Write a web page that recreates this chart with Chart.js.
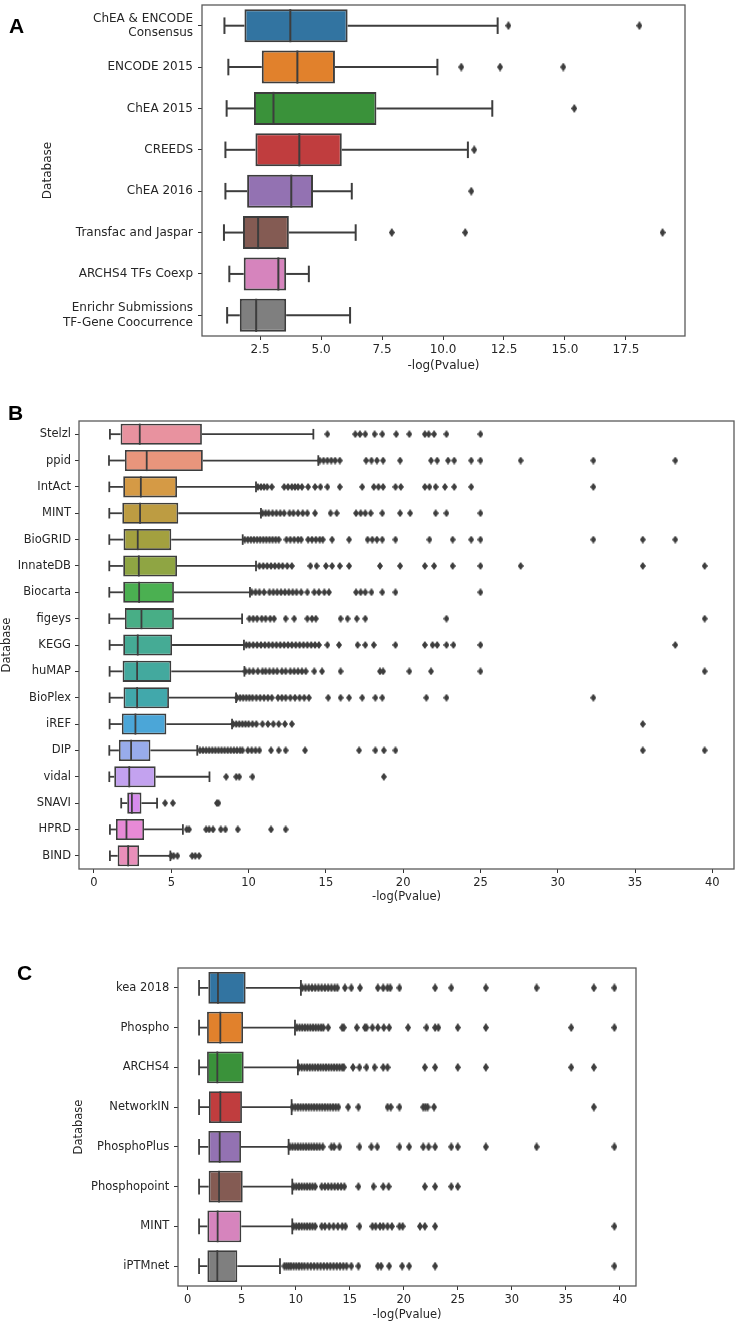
<!DOCTYPE html>
<html>
<head>
<meta charset="utf-8">
<script src="https://cdn.jsdelivr.net/npm/chart.js@4.4.0/dist/chart.umd.min.js"></script>
<style>
  body { margin: 0; background: #fff; }
  #page { position: relative; width: 739px; height: 1322px; overflow: hidden; background: #fff; }
  canvas { position: absolute; left: 0; }
  .panel { position: absolute; font: bold 21px "Liberation Sans", Arial, sans-serif; line-height: 21px; color: #000; }
</style>
</head>
<body>
<div id="page">
  <canvas id="chartA" width="739" height="376" style="top:0"></canvas>
  <canvas id="chartB" width="739" height="530" style="top:380px"></canvas>
  <canvas id="chartC" width="739" height="402" style="top:920px"></canvas>
  <div class="panel" style="left:9px; top:15px">A</div>
  <div class="panel" style="left:8px; top:402px">B</div>
  <div class="panel" style="left:17px; top:962px">C</div>
</div>
<script>
// panel A - transcription factor libraries
const aLabels = ["ChEA & ENCODE\nConsensus", "ENCODE 2015", "ChEA 2015", "CREEDS", "ChEA 2016",
  "Transfac and Jaspar", "ARCHS4 TFs Coexp", "Enrichr Submissions\nTF-Gene Coocurrence"];
const aLow = [1.04, 1.20, 1.13, 1.08, 1.08, 1.02, 1.24, 1.15];
const aQ1 = [1.86, 2.57, 2.25, 2.31, 1.97, 1.80, 1.83, 1.67];
const aMed = [3.74, 4.03, 3.05, 4.11, 3.78, 2.42, 3.25, 2.34];
const aQ3 = [6.09, 5.57, 7.27, 5.85, 4.67, 3.68, 3.57, 3.57];
const aHigh = [12.24, 9.77, 12.02, 11.02, 6.26, 6.42, 4.50, 6.19];
const aOutliers = [[12.68, 18.05], [10.75, 12.34, 14.93], [15.38], [11.28], [11.16], [7.90, 10.91, 19.0], [], []];
const aTicks = [2.5, 5, 7.5, 10, 12.5, 15, 17.5];

// panel B - PPI libraries
const bLabels = ["Stelzl", "ppid", "IntAct", "MINT", "BioGRID", "InnateDB", "Biocarta", "figeys", "KEGG",
  "huMAP", "BioPlex", "iREF", "DIP", "vidal", "SNAVI", "HPRD", "BIND"];
const bLow = [1.03, 0.97, 0.99, 0.99, 0.99, 0.99, 0.99, 0.99, 1.01, 1.01, 1.01, 1.01, 0.99, 0.99, 1.76, 1.03, 1.03];
const bQ1 = [1.72, 2.0, 1.89, 1.83, 1.91, 1.89, 1.89, 2.0, 1.89, 1.85, 1.91, 1.8, 1.61, 1.31, 2.15, 1.42, 1.53];
const bMed = [2.96, 3.41, 3.03, 2.98, 2.83, 2.9, 2.92, 3.07, 2.83, 2.79, 2.79, 2.68, 2.4, 2.28, 2.45, 2.1, 2.21];
const bQ3 = [6.98, 7.04, 5.37, 5.45, 5.0, 5.37, 5.17, 5.17, 5.05, 5.0, 4.85, 4.68, 3.65, 3.99, 3.07, 3.24, 2.92];
const bHigh = [14.19, 14.51, 10.48, 10.8, 9.62, 10.48, 10.09, 9.58, 9.7, 9.73, 9.19, 8.93, 6.68, 7.47, 4.08, 5.75, 4.94];
const bOutliers = [
  [15.1, 16.9, 17.2, 17.55, 18.15, 18.65, 19.55, 20.4, 21.4, 21.65, 22.0, 22.8, 25.0],
  [14.6, 14.85, 15.1, 15.35, 15.6, 15.9, 17.6, 17.95, 18.3, 18.7, 19.8, 21.8, 22.2, 22.9, 23.3, 24.4, 25.0, 27.6, 32.3, 37.6],
  [10.6, 10.8, 11.0, 11.2, 11.5, 12.3, 12.55, 12.8, 13.0, 13.2, 13.45, 13.85, 14.3, 14.65, 15.1, 15.9, 17.35, 18.1, 18.4,
    18.7, 19.5, 19.85, 21.4, 21.7, 22.1, 22.7, 23.3, 24.4, 32.3],
  [10.9, 11.1, 11.3, 11.55, 11.8, 12.05, 12.3, 12.65, 12.9, 13.2, 13.5, 13.8, 14.3, 15.3, 15.7, 16.95, 17.25, 17.55, 17.9,
    18.65, 19.8, 20.45, 22.1, 22.8, 25.0],
  [9.75, 9.95, 10.15, 10.35, 10.55, 10.75, 10.95, 11.15, 11.35, 11.55, 11.75, 11.95, 12.45, 12.7, 12.95, 13.2, 13.4, 13.85,
    14.1, 14.35, 14.6, 14.8, 15.4, 16.5, 17.7, 18.0, 18.3, 18.65, 19.5, 21.7, 23.2, 24.4, 25.0, 32.3, 35.5, 37.6],
  [10.7, 10.95, 11.2, 11.45, 11.7, 11.95, 12.2, 12.5, 12.8, 14.0, 14.4, 15.0, 15.4, 15.9, 16.5, 18.5, 19.8, 21.4, 22.0,
    23.2, 25.0, 27.6, 35.5, 39.5],
  [10.2, 10.45, 10.7, 11.0, 11.35, 11.6, 11.85, 12.1, 12.35, 12.6, 12.85, 13.1, 13.4, 13.8, 14.25, 14.55, 14.9, 15.2,
    16.95, 17.25, 17.55, 17.95, 18.65, 19.5, 25.0],
  [10.05, 10.3, 10.55, 10.85, 11.1, 11.4, 11.65, 12.4, 12.95, 13.8, 14.1, 14.35, 15.95, 16.4, 17.0, 17.55, 22.8, 39.5],
  [9.85, 10.05, 10.3, 10.55, 10.8, 11.05, 11.3, 11.55, 11.8, 12.05, 12.3, 12.55, 12.8, 13.05, 13.3, 13.55, 13.8, 14.05,
    14.3, 14.55, 15.1, 15.85, 17.05, 17.55, 18.1, 19.5, 21.4, 21.9, 22.2, 22.8, 23.25, 25.0, 37.6],
  [9.8, 10.05, 10.3, 10.6, 10.9, 11.1, 11.35, 11.6, 11.85, 12.15, 12.4, 12.7, 12.95, 13.2, 13.45, 13.7, 14.25, 14.75,
    15.95, 18.5, 18.7, 20.4, 21.8, 25.0, 39.5],
  [9.25, 9.45, 9.65, 9.85, 10.05, 10.25, 10.5, 10.75, 11.0, 11.25, 11.5, 11.9, 12.15, 12.4, 12.7, 13.0, 13.3, 13.6, 13.9,
    15.15, 15.95, 16.5, 17.35, 18.2, 18.65, 21.5, 22.8, 32.3],
  [9.0, 9.2, 9.4, 9.6, 9.8, 10.0, 10.25, 10.5, 10.9, 11.25, 11.6, 11.95, 12.35, 12.8, 35.5],
  [6.85, 7.05, 7.25, 7.45, 7.65, 7.85, 8.05, 8.25, 8.45, 8.65, 8.85, 9.05, 9.25, 9.45, 9.6, 9.95, 10.2, 10.45, 10.7,
    11.45, 11.95, 12.4, 13.65, 17.15, 18.2, 18.75, 19.5, 35.5, 39.5],
  [8.55, 9.2, 9.4, 10.25, 18.75],
  [4.6, 5.1, 7.95, 8.05],
  [6.0, 6.15, 7.25, 7.45, 7.7, 8.2, 8.5, 9.3, 11.45, 12.4],
  [5.0, 5.15, 5.4, 6.35, 6.55, 6.8]
];
const bTicks = [0, 5, 10, 15, 20, 25, 30, 35, 40];

// panel C - kinase libraries
const cLabels = ["kea 2018", "Phospho", "ARCHS4", "NetworkIN", "PhosphoPlus", "Phosphopoint", "MINT", "iPTMnet"];
const cLow = [1.05, 1.05, 1.05, 1.05, 1.05, 1.05, 1.05, 1.05];
const cQ1 = [1.91, 1.79, 1.79, 1.97, 1.91, 1.94, 1.82, 1.82];
const cMed = [2.8, 3.02, 2.74, 3.02, 2.96, 2.9, 2.77, 2.74];
const cQ3 = [5.36, 5.12, 5.18, 5.02, 4.93, 5.09, 4.96, 4.59];
const cHigh = [10.48, 9.93, 10.2, 9.62, 9.34, 9.68, 9.68, 8.54];
const cOutliers = [
  [10.6, 10.9, 11.2, 11.5, 11.8, 12.1, 12.4, 12.7, 13.0, 13.3, 13.6, 13.85, 14.55, 15.15, 15.95, 17.6, 18.1, 18.5, 18.75,
    19.6, 22.9, 24.4, 27.6, 32.3, 37.6, 39.5],
  [10.1, 10.35, 10.6, 10.85, 11.1, 11.35, 11.6, 11.85, 12.1, 12.35, 12.55, 13.0, 14.3, 14.45, 15.65, 16.4, 16.55, 17.1,
    17.6, 18.15, 18.65, 20.4, 22.1, 22.9, 23.2, 25.0, 27.6, 35.5, 39.5],
  [10.3, 10.55, 10.8, 11.05, 11.3, 11.55, 11.8, 12.05, 12.3, 12.55, 12.8, 13.05, 13.3, 13.55, 13.8, 14.05, 14.3, 14.45,
    15.3, 15.9, 16.55, 17.3, 18.1, 18.5, 21.95, 22.9, 25.0, 27.6, 35.5, 37.6],
  [9.7, 9.95, 10.2, 10.45, 10.7, 10.95, 11.2, 11.45, 11.7, 11.95, 12.2, 12.45, 12.7, 12.95, 13.2, 13.45, 13.7, 13.95,
    14.85, 15.8, 18.5, 18.8, 19.6, 21.8, 22.0, 22.2, 22.8, 37.6],
  [9.45, 9.7, 9.95, 10.2, 10.45, 10.7, 10.95, 11.2, 11.45, 11.7, 11.95, 12.2, 12.5, 13.3, 13.55, 14.05, 15.9, 17.0, 17.55,
    19.6, 20.5, 21.8, 22.3, 22.9, 24.4, 25.0, 27.6, 32.3, 39.5],
  [9.8, 10.05, 10.3, 10.55, 10.8, 11.05, 11.3, 11.55, 11.8, 12.4, 12.7, 13.0, 13.3, 13.6, 13.9, 14.2, 14.5, 15.8, 17.2,
    18.1, 18.6, 21.95, 22.9, 24.4, 25.0],
  [9.8, 10.05, 10.3, 10.55, 10.8, 11.05, 11.3, 11.55, 11.8, 12.4, 12.7, 13.1, 13.5, 13.9, 14.3, 14.6, 15.9, 17.1, 17.4,
    17.8, 18.1, 18.5, 18.9, 19.6, 19.9, 21.5, 21.95, 22.9, 39.5],
  [8.95, 9.15, 9.35, 9.55, 9.8, 10.05, 10.3, 10.55, 10.8, 11.1, 11.4, 11.7, 12.0, 12.3, 12.6, 12.9, 13.2, 13.5, 13.8, 14.1,
    14.4, 14.7, 15.15, 15.8, 17.6, 17.9, 18.65, 19.85, 20.5, 22.9, 39.5]
];
const cTicks = [0, 5, 10, 15, 20, 25, 30, 35, 40];

const tab10 = ["#3274a1", "#e1812c", "#3a923a", "#c03d3e", "#9372b2", "#845b53", "#d684bd", "#7f7f7f"];
const huslColors = ["#e8929f", "#e8957c", "#d59a45", "#bd9c42", "#a3a03f", "#8fa543", "#4bb051", "#48ae86", "#45ab95",
  "#43a99e", "#41a8ab", "#4ba6d8", "#98aceb", "#c3a2ef", "#d78ced", "#e78ad6", "#e98fba"];

const INK = "#3d3d3d";
const TEXT = "#262626";

function diamond(w, h) {
  const c = document.createElement("canvas");
  c.width = w;
  c.height = h;
  const g = c.getContext("2d");
  g.fillStyle = INK;
  g.beginPath();
  g.moveTo(w / 2, 0);
  g.lineTo(w, h / 2);
  g.lineTo(w / 2, h);
  g.lineTo(0, h / 2);
  g.closePath();
  g.fill();
  return c;
}

// whiskers, caps, medians and the frame round the plot
function boxParts(p) {
  return {
    id: "boxParts",
    afterDatasetsDraw(chart) {
      const { ctx, chartArea, scales: { x, y } } = chart;
      const bars = chart.getDatasetMeta(0).data;
      const seg = (x0, y0, x1, y1) => {
        ctx.beginPath();
        ctx.moveTo(x0, y0);
        ctx.lineTo(x1, y1);
        ctx.stroke();
      };
      ctx.save();
      ctx.strokeStyle = INK;
      ctx.lineWidth = p.lw;
      p.low.forEach((lo, i) => {
        const yc = y.getPixelForValue(i);
        const half = bars[i].height / 2;
        const cap = half / 2;
        const xLo = x.getPixelForValue(lo);
        const xHi = x.getPixelForValue(p.high[i]);
        seg(xLo, yc, x.getPixelForValue(p.q1[i]), yc);
        seg(x.getPixelForValue(p.q3[i]), yc, xHi, yc);
        seg(xLo, yc - cap, xLo, yc + cap);
        seg(xHi, yc - cap, xHi, yc + cap);
        const xm = x.getPixelForValue(p.med[i]);
        seg(xm, yc - half, xm, yc + half);
      });
      ctx.strokeStyle = "#5a5a5a";
      ctx.lineWidth = 1.3;
      ctx.strokeRect(chartArea.left, chartArea.top, chartArea.right - chartArea.left, chartArea.bottom - chartArea.top);
      ctx.restore();
    }
  };
}

function drawPanel(id, p) {
  const canvas = document.getElementById(id);
  const font = { family: "DejaVu Sans", size: p.fontSize, lineHeight: 1.2 };
  const points = [];
  p.outliers.forEach((vals, i) => vals.forEach((v) => points.push({ x: v, y: p.labels[i] })));

  return new Chart(canvas, {
    type: "bar",
    data: {
      labels: p.labels,
      datasets: [
        {
          data: p.q1.map((v, i) => [v, p.q3[i]]),
          backgroundColor: p.colors,
          borderColor: INK,
          borderWidth: p.lw,
          borderSkipped: false,
          barPercentage: 0.8,
          categoryPercentage: 1
        },
        {
          type: "scatter",
          data: points,
          pointStyle: p.marker,
          pointRadius: 3
        }
      ]
    },
    options: {
      indexAxis: "y",
      responsive: false,
      animation: false,
      devicePixelRatio: 1,
      layout: {
        padding: {
          left: 0,
          right: canvas.width - p.area.right,
          top: p.area.top,
          bottom: canvas.height - p.area.bottom - p.xAxisH
        }
      },
      plugins: {
        legend: { display: false },
        tooltip: { enabled: false }
      },
      scales: {
        x: {
          type: "linear",
          min: p.xMin,
          max: p.xMax,
          afterFit: (s) => {
            s.height = p.xAxisH;
            s.paddingLeft = 0;
            s.paddingRight = 0;
          },
          afterBuildTicks: (s) => {
            s.ticks = p.xTicks.map((v) => ({ value: v }));
          },
          grid: { drawOnChartArea: false, tickLength: 4, color: "#333" },
          border: { display: false },
          ticks: { font, color: TEXT, padding: 3, maxRotation: 0, autoSkip: false, callback: p.tickFmt },
          title: { display: true, text: "-log(Pvalue)", font, color: TEXT, padding: 0 }
        },
        y: {
          type: "category",
          offset: true,
          afterFit: (s) => {
            s.width = p.area.left;
            s.paddingTop = 0;
            s.paddingBottom = 0;
          },
          grid: { offset: false, drawOnChartArea: false, tickLength: 4, color: "#333" },
          border: { display: false },
          ticks: {
            font,
            color: TEXT,
            padding: p.yTickPad,
            autoSkip: false,
            callback(v) {
              return this.getLabelForValue(v).split("\n");
            }
          },
          title: { display: true, text: "Database", font, color: TEXT, padding: { top: p.yTitlePad, bottom: 0 } }
        }
      }
    },
    plugins: [boxParts(p)]
  });
}

drawPanel("chartA", {
  labels: aLabels, low: aLow, q1: aQ1, med: aMed, q3: aQ3, high: aHigh, outliers: aOutliers,
  colors: tab10, xMin: 0.12, xMax: 19.92, xTicks: aTicks, tickFmt: (v) => v.toFixed(1),
  area: { left: 202, right: 685, top: 1, bottom: 336 }, xAxisH: 37,
  fontSize: 12, yTickPad: 5, yTitlePad: 40.8, lw: 2, marker: diamond(6, 9)
});

drawPanel("chartB", {
  labels: bLabels, low: bLow, q1: bQ1, med: bMed, q3: bQ3, high: bHigh, outliers: bOutliers,
  colors: huslColors, xMin: -0.97, xMax: 41.4, xTicks: bTicks, tickFmt: (v) => String(v),
  area: { left: 79, right: 737, top: 41, bottom: 489 }, xAxisH: 35,
  fontSize: 11.5, yTickPad: 4, yTitlePad: 0, lw: 1.8, marker: diamond(6, 8)
});

drawPanel("chartC", {
  labels: cLabels, low: cLow, q1: cQ1, med: cMed, q3: cQ3, high: cHigh, outliers: cOutliers,
  colors: tab10, xMin: -0.9, xMax: 41.5, xTicks: cTicks, tickFmt: (v) => String(v),
  area: { left: 178, right: 636, top: 48, bottom: 366 }, xAxisH: 36,
  fontSize: 11.5, yTickPad: 4.7, yTitlePad: 72.1, lw: 1.8, marker: diamond(6, 9)
});
</script>
</body>
</html>
